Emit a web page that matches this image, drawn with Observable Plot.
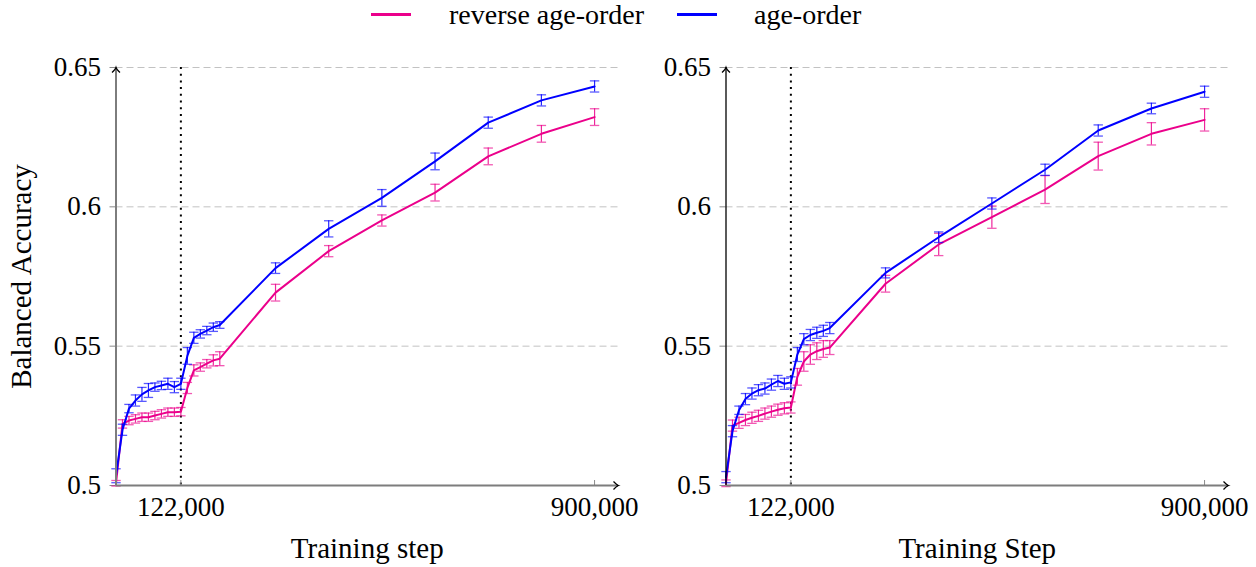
<!DOCTYPE html>
<html>
<head>
<meta charset="utf-8">
<script src="https://cdn.jsdelivr.net/npm/d3@7"></script>
<script src="https://cdn.jsdelivr.net/npm/@observablehq/plot@0.6"></script>
<style>
  body { margin: 0; background: #fff; }
  #chart { position: relative; width: 1256px; height: 567px; font-family: "Liberation Serif", "Times New Roman", Times, "DejaVu Serif", serif; color: #000; }
  .panel { position: absolute; top: 0; }
  .legend-swatch { position: absolute; top: 13px; width: 40px; height: 2.5px; }
  .legend-label { position: absolute; top: 0; line-height: 30px; font-size: 28px; white-space: nowrap; }
</style>
</head>
<body>
<div id="chart"></div>
<script>
// Training checkpoints (steps) shared by both runs
const steps = [0, 12200, 24400, 36600, 48800, 61000, 73200, 85400, 97600, 109800, 122000,
  134200, 146400, 158600, 170800, 183000, 195200,
  300000, 400000, 500000, 600000, 700000, 800000, 900000];

const seriesNames = ["reverse age-order", "age-order"];
const seriesColors = ["#eb008b", "#0000ff"];

// Left panel: balanced accuracy (mean) and error half-widths
const leftReverse = [0.5008, 0.5221, 0.5233, 0.5239, 0.5245, 0.5245, 0.5251, 0.5257, 0.5263, 0.5263, 0.5265,
  0.5350, 0.5413, 0.5425, 0.5437, 0.5449, 0.5455,
  0.5692, 0.5841, 0.5951, 0.6051, 0.6181, 0.6262, 0.6322];
const leftReverseErr = [0.0010, 0.0015, 0.0015, 0.0015, 0.0015, 0.0015, 0.0015, 0.0015, 0.0015, 0.0015, 0.0015,
  0.0020, 0.0020, 0.0015, 0.0015, 0.0020, 0.0025,
  0.0030, 0.0020, 0.0020, 0.0030, 0.0030, 0.0030, 0.0030];
const leftAge = [0.5035, 0.5200, 0.5276, 0.5305, 0.5327, 0.5341, 0.5353, 0.5359, 0.5365, 0.5353, 0.5365,
  0.5465, 0.5530, 0.5544, 0.5556, 0.5568, 0.5576,
  0.5780, 0.5921, 0.6032, 0.6163, 0.6302, 0.6382, 0.6432];
const leftAgeErr = [0.0025, 0.0020, 0.0015, 0.0020, 0.0025, 0.0025, 0.0015, 0.0015, 0.0020, 0.0020, 0.0020,
  0.0030, 0.0020, 0.0015, 0.0015, 0.0015, 0.0012,
  0.0019, 0.0029, 0.0030, 0.0030, 0.0020, 0.0020, 0.0020];

// Right panel
const rightReverse = [0.5008, 0.5215, 0.5225, 0.5235, 0.5243, 0.5250, 0.5258, 0.5265, 0.5272, 0.5277, 0.5280,
  0.5390, 0.5445, 0.5470, 0.5482, 0.5490, 0.5495,
  0.5724, 0.5865, 0.5963, 0.6062, 0.6182, 0.6262, 0.6312];
const rightReverseErr = [0.0012, 0.0020, 0.0020, 0.0020, 0.0020, 0.0020, 0.0020, 0.0020, 0.0020, 0.0020, 0.0020,
  0.0030, 0.0035, 0.0035, 0.0030, 0.0030, 0.0025,
  0.0030, 0.0040, 0.0040, 0.0050, 0.0050, 0.0040, 0.0040];
const rightAge = [0.5030, 0.5195, 0.5270, 0.5310, 0.5330, 0.5342, 0.5348, 0.5362, 0.5375, 0.5365, 0.5370,
  0.5470, 0.5525, 0.5540, 0.5548, 0.5555, 0.5565,
  0.5763, 0.5891, 0.6012, 0.6133, 0.6274, 0.6353, 0.6413];
const rightAgeErr = [0.0020, 0.0020, 0.0015, 0.0020, 0.0020, 0.0020, 0.0020, 0.0020, 0.0020, 0.0020, 0.0020,
  0.0025, 0.0020, 0.0020, 0.0020, 0.0020, 0.0020,
  0.0018, 0.0019, 0.0020, 0.0020, 0.0020, 0.0019, 0.0020];

const xTicks = [122000, 900000];
const yTicks = [0.5, 0.55, 0.6, 0.65];
const gridLines = [0.55, 0.6, 0.65];
const phaseBoundary = 122000;
const xDomain = [0, 945000];
const yDomain = [0.5, 0.65];
const serifStack = "'Liberation Serif', 'Times New Roman', Times, 'DejaVu Serif', serif";

function rows(name, values, errs) {
  return steps.map((s, i) => ({
    step: s, value: values[i], lo: values[i] - errs[i], hi: values[i] + errs[i], series: name
  }));
}

// horizontal bar used as the error-bar cap
const capSymbol = {
  draw(ctx, size) {
    const w = Math.sqrt(size / Math.PI);
    ctx.moveTo(-w, 0);
    ctx.lineTo(w, 0);
  }
};
// open, slightly curved arrow tip pointing along +x
const arrowTip = {
  draw(ctx, size) {
    const w = Math.sqrt(size / Math.PI);
    ctx.moveTo(-w, -w * 0.8);
    ctx.quadraticCurveTo(-w * 0.35, -w * 0.1, 0, 0);
    ctx.quadraticCurveTo(-w * 0.35, w * 0.1, -w, w * 0.8);
  }
};

function seriesMarks(data, color) {
  return [
    Plot.line(data, {x: "step", y: "value", stroke: color, strokeWidth: 2}),
    Plot.ruleX(data, {x: "step", y1: "lo", y2: "hi", stroke: color, strokeWidth: 1.2, strokeOpacity: 0.85}),
    Plot.dot(data, {x: "step", y: "lo", symbol: capSymbol, r: 4.7, fill: "none", stroke: color, strokeWidth: 1.3, strokeOpacity: 0.65}),
    Plot.dot(data, {x: "step", y: "hi", symbol: capSymbol, r: 4.7, fill: "none", stroke: color, strokeWidth: 1.3, strokeOpacity: 0.65})
  ];
}

function panel({reverse, reverseErr, age, ageErr, xLabel, yLabel, left, width, marginRight, yAxisColor, yAxisWidth}) {
  const reverseRows = rows(seriesNames[0], reverse, reverseErr);
  const ageRows = rows(seriesNames[1], age, ageErr);
  const svg = Plot.plot({
    width,
    height: 567,
    marginLeft: 115.5,
    marginRight,
    marginTop: 67,
    marginBottom: 82,
    style: {fontFamily: serifStack, fontSize: "27px", background: "transparent", overflow: "visible"},
    x: {domain: xDomain},
    y: {domain: yDomain},
    marks: [
      Plot.ruleY(gridLines, {stroke: "#c2c2c2", strokeWidth: 1, strokeDasharray: "7,4"}),
      Plot.ruleX([phaseBoundary], {stroke: "black", strokeWidth: 2, strokeDasharray: "2,4.7"}),
      Plot.axisY({ticks: yTicks, tickFormat: d => `${d}`, tickSize: 6, tickPadding: 9, stroke: "#8a8a8a", fill: "black", label: null}),
      Plot.axisX({ticks: xTicks, tickFormat: d3.format(","), tickSize: 0, tickPadding: 11, fill: "black", label: null}),
      Plot.axisX({ticks: xTicks, text: null, tickSize: 5, dy: -5, stroke: "#8a8a8a", label: null}),
      ...seriesMarks(reverseRows, seriesColors[0]),
      ...seriesMarks(ageRows, seriesColors[1]),
      // axis lines with arrow tips
      Plot.ruleY([yDomain[0]], {stroke: "#7d7d7d", strokeWidth: 2.2}),
      Plot.ruleX([xDomain[0]], {stroke: yAxisColor, strokeWidth: yAxisWidth}),
      Plot.dot([xDomain[1]], {x: d => d, y: yDomain[0], symbol: arrowTip, r: 5, fill: "none", stroke: "black", strokeWidth: 1.2}),
      Plot.dot([yDomain[1]], {x: xDomain[0], y: d => d, symbol: arrowTip, rotate: -90, r: 5, fill: "none", stroke: "black", strokeWidth: 1.2}),
      Plot.text([xLabel], {frameAnchor: "bottom", dy: 72, fontSize: 29, fill: "black"}),
      ...(yLabel ? [Plot.text([yLabel], {frameAnchor: "left", textAnchor: "middle", dx: -94, rotate: -90, fontSize: 29, fill: "black"})] : [])
    ]
  });
  svg.classList.add("panel");
  svg.style.left = `${left}px`;
  return svg;
}

const chart = document.getElementById("chart");

chart.appendChild(panel({
  reverse: leftReverse, reverseErr: leftReverseErr, age: leftAge, ageErr: leftAgeErr,
  xLabel: "Training step", yLabel: "Balanced Accuracy",
  left: 0, width: 628, marginRight: 10, yAxisColor: "#7d7d7d", yAxisWidth: 2
}));
chart.appendChild(panel({
  reverse: rightReverse, reverseErr: rightReverseErr, age: rightAge, ageErr: rightAgeErr,
  xLabel: "Training Step", yLabel: null,
  left: 609.5, width: 646.5, marginRight: 28.5, yAxisColor: "black", yAxisWidth: 1.3
}));

// legend above the panels
const legendSwatchLeft = [371, 677];
const legendLabelLeft = [449, 754];
seriesNames.forEach((name, i) => {
  const sw = document.createElement("div");
  sw.className = "legend-swatch";
  sw.style.left = `${legendSwatchLeft[i]}px`;
  sw.style.background = seriesColors[i];
  chart.appendChild(sw);
  const lab = document.createElement("div");
  lab.className = "legend-label";
  lab.style.left = `${legendLabelLeft[i]}px`;
  lab.textContent = name;
  chart.appendChild(lab);
});
</script>
</body>
</html>
